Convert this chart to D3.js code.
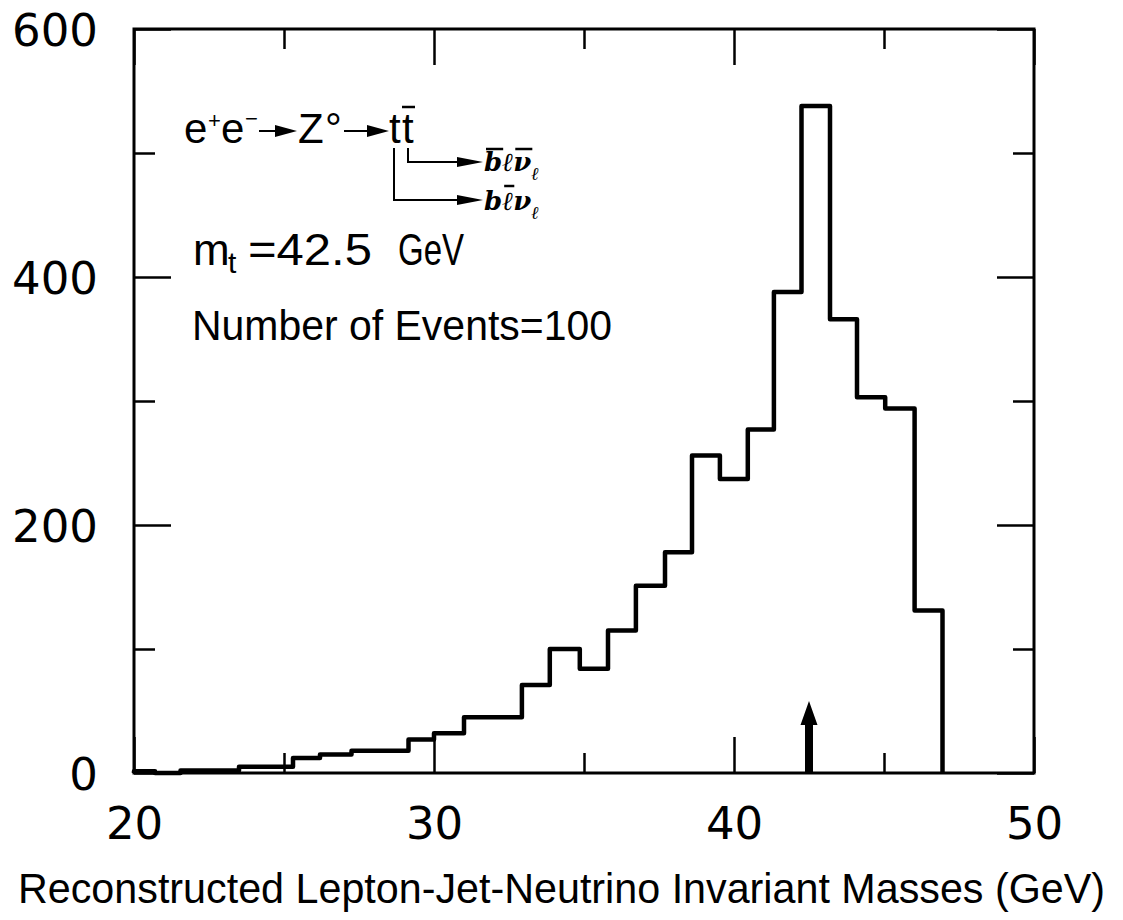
<!DOCTYPE html>
<html>
<head>
<meta charset="utf-8">
<script src="https://cdn.jsdelivr.net/npm/d3@7"></script>
<style>
  body { margin: 0; background: #fff; }
  svg text { fill: #000; }
</style>
</head>
<body>
<svg id="chart" width="1123" height="920"></svg>
<script>
'use strict'

/****** DATA ******/

// bin edges (GeV) and counts
const binEdges = [20, 20.7, 21.55, 22.5, 23.5, 24.4, 25.3, 26.2, 27.25, 28.2,
                  29.15, 30.0, 31.0, 31.95, 32.93, 33.86, 34.86, 35.8, 36.73, 37.7,
                  38.6, 39.53, 40.46, 41.33, 42.25, 43.2, 44.1, 45.04, 46.02, 46.95]
const binCounts = [1.5, 0, 2, 2, 5, 5, 12, 15, 18, 18,
                   27, 32, 45, 45, 71, 100, 84, 115, 151, 178,
                   256, 237, 277, 388, 538, 366, 303, 294, 131]

const xMajor = [20, 30, 40, 50]
const xMinor = [25, 35, 45]
const yMajor = [0, 200, 400, 600]
const yMinor = [100, 300, 500]

const topMass = 42.5       // arrow marks m_t
const arrowLength = 58     // in event units

const xTitle = 'Reconstructed Lepton-Jet-Neutrino Invariant Masses  (GeV)'
const massLabel = ['m', 't', '=42.5', 'GeV']
const eventsLabel = 'Number of Events=100'


/****** SETUP ******/

const margin = {top: 29, left: 134},
      width = 900,
      height = 744

const svg = d3.select('#chart')
const chart = svg.append('g')
  .attr('transform', `translate(${margin.left},${margin.top})`)

const x = d3.scaleLinear().domain([20, 50]).range([0, width])
const y = d3.scaleLinear().domain([0, 600]).range([height, 0])

const DIGITS = '"DejaVu Sans", sans-serif'
const LETTERS = '"Liberation Sans", Arial, sans-serif'
const SCRIPT = '"DejaVu Serif", serif'


/****** AXES ******/

function styleAxis(g) {
  g.select('.domain').remove()
  g.selectAll('.tick line').attr('stroke', '#000').attr('stroke-width', 2.5)
}

// major ticks with labels (bottom, left)
chart.append('g')
  .attr('transform', `translate(0,${height})`)
  .call(d3.axisBottom(x).tickValues(xMajor).tickSizeInner(-36).tickSizeOuter(0).tickPadding(0))
  .call(styleAxis)
  .call(g => g.selectAll('text')
    .attr('y', 66).attr('dy', 0)
    .style('font-family', DIGITS).style('font-size', '45px'))

chart.append('g')
  .call(d3.axisLeft(y).tickValues(yMajor).tickSizeInner(-37).tickSizeOuter(0).tickPadding(0))
  .call(styleAxis)
  .call(g => g.selectAll('text')
    .attr('x', -36).attr('dy', '0.36em')
    .style('font-family', DIGITS).style('font-size', '45px'))

// mirrored major ticks on top / right
chart.append('g')
  .call(d3.axisTop(x).tickValues(xMajor).tickSizeInner(-36).tickSizeOuter(0).tickFormat(''))
  .call(styleAxis)
chart.append('g')
  .attr('transform', `translate(${width},0)`)
  .call(d3.axisRight(y).tickValues(yMajor).tickSizeInner(-37).tickSizeOuter(0).tickFormat(''))
  .call(styleAxis)

// minor ticks on all four sides
chart.append('g').attr('transform', `translate(0,${height})`)
  .call(d3.axisBottom(x).tickValues(xMinor).tickSizeInner(-20).tickSizeOuter(0).tickFormat(''))
  .call(styleAxis)
chart.append('g')
  .call(d3.axisTop(x).tickValues(xMinor).tickSizeInner(-20).tickSizeOuter(0).tickFormat(''))
  .call(styleAxis)
chart.append('g')
  .call(d3.axisLeft(y).tickValues(yMinor).tickSizeInner(-21).tickSizeOuter(0).tickFormat(''))
  .call(styleAxis)
chart.append('g').attr('transform', `translate(${width},0)`)
  .call(d3.axisRight(y).tickValues(yMinor).tickSizeInner(-21).tickSizeOuter(0).tickFormat(''))
  .call(styleAxis)

// frame
chart.append('rect')
  .attr('x', 0).attr('y', 0)
  .attr('width', width).attr('height', height)
  .attr('fill', 'none')
  .attr('stroke', '#000')
  .attr('stroke-width', 3)


/****** HISTOGRAM ******/

const pts = [{e: binEdges[0], c: 0}]
binCounts.forEach((c, i) => pts.push({e: binEdges[i], c: c}))
pts.push({e: binEdges[binEdges.length - 1], c: binCounts[binCounts.length - 1]})
pts.push({e: binEdges[binEdges.length - 1], c: 0})

const step = d3.line()
  .x(d => x(d.e))
  .y(d => y(d.c))
  .curve(d3.curveStepAfter)

chart.append('path')
  .datum(pts)
  .attr('d', step)
  .attr('fill', 'none')
  .attr('stroke', '#000')
  .attr('stroke-width', 4.5)
  .attr('stroke-linejoin', 'round')

// arrow at m_t
const ax = x(topMass), ay0 = y(0), ay1 = y(arrowLength)
chart.append('path')
  .attr('d', `M${ax - 4},${ay0} L${ax - 4},${ay1 + 24} L${ax - 8.5},${ay1 + 24} L${ax},${ay1} ` +
             `L${ax + 8.5},${ay1 + 24} L${ax + 4},${ay1 + 24} L${ax + 4},${ay0} Z`)
  .attr('fill', '#000')


/****** ANNOTATIONS ******/

function arrowRight(x0, x1, yy, headLen, headHalf) {
  svg.append('line')
    .attr('x1', x0).attr('x2', x1 - headLen + 2).attr('y1', yy).attr('y2', yy)
    .attr('stroke', '#000').attr('stroke-width', 2)
  svg.append('path')
    .attr('d', `M${x1 - headLen},${yy - headHalf} L${x1},${yy} L${x1 - headLen},${yy + headHalf} Z`)
    .attr('fill', '#000')
}

function txt(xx, yy, s, size, fam) {
  return svg.append('text')
    .attr('x', xx).attr('y', yy)
    .style('font-family', fam || LETTERS)
    .style('font-size', size + 'px')
    .text(s)
}

function bar(x1, x2, yy) {
  svg.append('line')
    .attr('x1', x1).attr('x2', x2).attr('y1', yy).attr('y2', yy)
    .attr('stroke', '#000').attr('stroke-width', 2.5)
}

// e+e- -> Z° -> t tbar
const l1 = 143
txt(184, l1, 'e', 42)
txt(208, l1 - 15, '+', 22)
txt(221, l1, 'e', 42)
txt(245, l1 - 17, '\u2212', 22)
arrowRight(259, 297, l1 - 12, 22, 6)
txt(298, l1, 'Z', 42)
txt(325, l1, '\u00b0', 42)
arrowRight(344, 389, l1 - 12, 22, 6)
txt(389, l1, 't', 42)
txt(402, l1, 't', 42)
bar(402, 415, 107)

// decay branches
svg.append('path')
  .attr('d', 'M408,148 L408,162')
  .attr('stroke', '#000').attr('stroke-width', 2).attr('fill', 'none')
arrowRight(407, 483, 162, 26, 5)
svg.append('path')
  .attr('d', 'M394,148 L394,200')
  .attr('stroke', '#000').attr('stroke-width', 2).attr('fill', 'none')
arrowRight(393, 483, 200, 26, 5)

const d1 = txt(484, 171, '', 26, SCRIPT).style('font-weight', 'bold').style('font-style', 'italic')
d1.append('tspan').text('b\u2113\u03bd')
d1.append('tspan').attr('dy', 9).style('font-size', '18px').text('\u2113')
const d2 = txt(484, 210, '', 26, SCRIPT).style('font-weight', 'bold').style('font-style', 'italic')
d2.append('tspan').text('b\u2113\u03bd')
d2.append('tspan').attr('dy', 9).style('font-size', '18px').text('\u2113')

// overbars: b and nu on the first line, l on the second
function overbar(t, idx, yy) {
  const b = t.node().getExtentOfChar(idx)
  bar(b.x + 2, b.x + b.width + 1, yy)
}
overbar(d1, 0, 149)
overbar(d1, 2, 149)
overbar(d2, 1, 186)

// m_t = 42.5 GeV
txt(193, 265, massLabel[0], 44)
txt(228, 273, massLabel[1], 30)
txt(248, 265, massLabel[2], 44).attr('textLength', 124).attr('lengthAdjust', 'spacingAndGlyphs')
txt(398, 265, massLabel[3], 44).attr('textLength', 66).attr('lengthAdjust', 'spacingAndGlyphs')

txt(192, 340, eventsLabel, 42)
  .attr('textLength', 420).attr('lengthAdjust', 'spacingAndGlyphs')

// x axis title
txt(18, 903, xTitle, 42)
  .attr('textLength', 1087).attr('lengthAdjust', 'spacingAndGlyphs')
</script>
</body>
</html>
